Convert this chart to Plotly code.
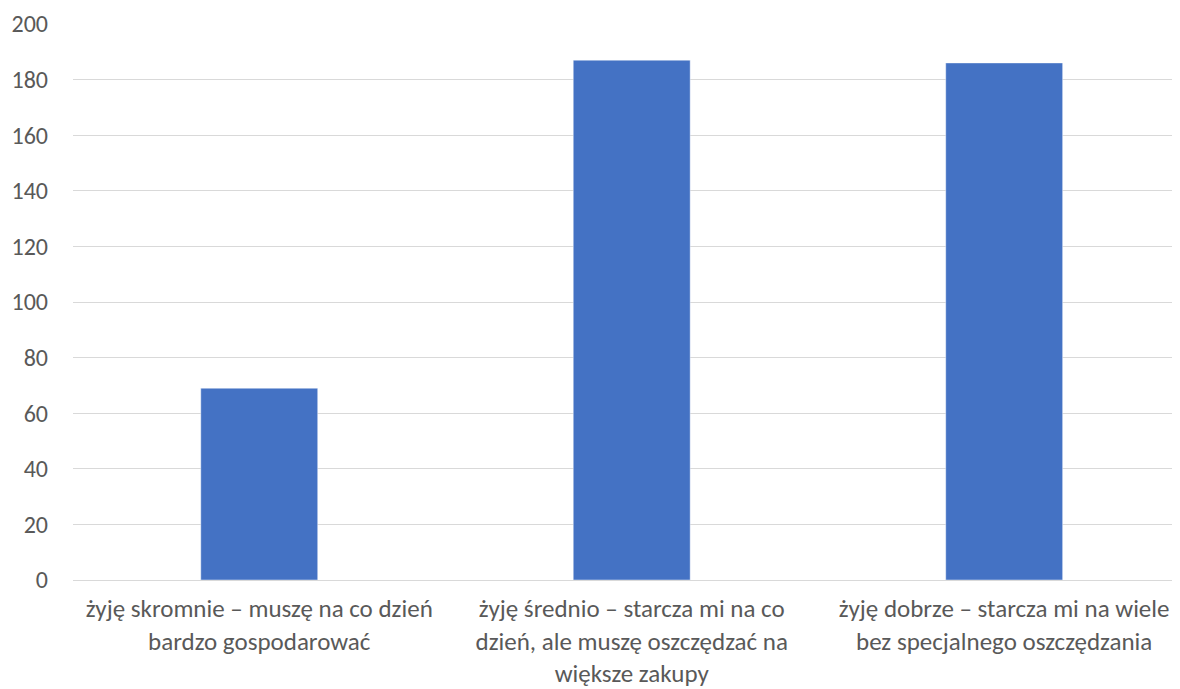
import plotly.graph_objects as go

categories = [
    "żyję skromnie – muszę na co dzień<br>bardzo gospodarować",
    "żyję średnio – starcza mi na co<br>dzień, ale muszę oszczędzać na<br>większe zakupy",
    "żyję dobrze – starcza mi na wiele<br>bez specjalnego oszczędzania",
]
values = [69, 187, 186]
y_ticks = [0, 20, 40, 60, 80, 100, 120, 140, 160, 180, 200]

font_family = "Carlito, Lato, sans-serif"

fig = go.Figure(
    go.Bar(
        x=list(range(len(categories))),
        y=values,
        width=0.314,
        marker=dict(color="#4472c4", line=dict(color="rgba(255,255,255,0.45)", width=1)),
    )
)

fig.update_layout(
    width=1180,
    height=689,
    margin=dict(l=65, r=0, t=16, b=117, autoexpand=False),
    paper_bgcolor="white",
    plot_bgcolor="white",
    showlegend=False,
    font=dict(family=font_family, color="#595959", size=24),
    xaxis=dict(
        tickmode="array",
        tickvals=list(range(len(categories))),
        ticktext=categories,
        range=[-0.5, 2.4935],
        showgrid=False,
        zeroline=False,
        showline=False,
        ticks="",
        tickfont=dict(size=25),
        ticklabelstandoff=11,
        automargin=False,
    ),
    yaxis=dict(
        range=[0, 200],
        tickvals=y_ticks,
        showgrid=True,
        gridcolor="#d9d9d9",
        gridwidth=1,
        zeroline=True,
        zerolinecolor="#d9d9d9",
        zerolinewidth=1,
        showline=False,
        ticks="",
        tickfont=dict(size=24),
        ticklabelstandoff=24,
        automargin=False,
    ),
)

fig.write_html("out.html")
